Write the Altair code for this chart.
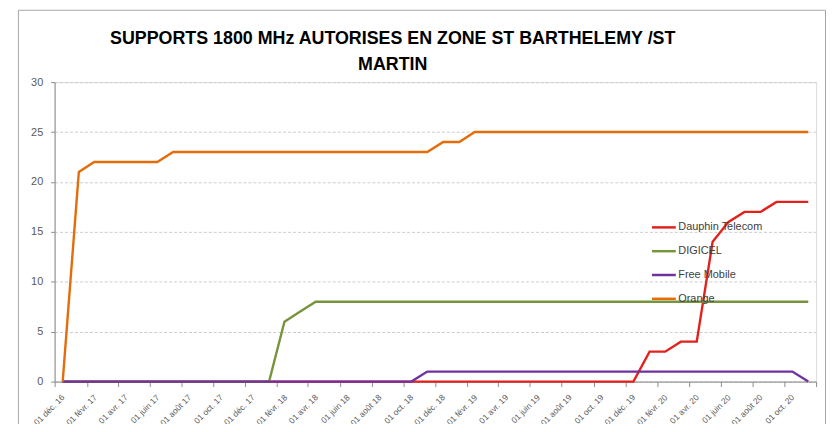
import json
import altair as alt
import pandas as pd

# ---------------- data ----------------
months = [
    "2016-12",
    "2017-01", "2017-02", "2017-03", "2017-04", "2017-05", "2017-06",
    "2017-07", "2017-08", "2017-09", "2017-10", "2017-11", "2017-12",
    "2018-01", "2018-02", "2018-03", "2018-04", "2018-05", "2018-06",
    "2018-07", "2018-08", "2018-09", "2018-10", "2018-11", "2018-12",
    "2019-01", "2019-02", "2019-03", "2019-04", "2019-05", "2019-06",
    "2019-07", "2019-08", "2019-09", "2019-10", "2019-11", "2019-12",
    "2020-01", "2020-02", "2020-03", "2020-04", "2020-05", "2020-06",
    "2020-07", "2020-08", "2020-09", "2020-10", "2020-11",
]

dauphin_telecom = [
    0,
    0, 0, 0, 0, 0, 0, 0, 0, 0, 0, 0, 0,
    0, 0, 0, 0, 0, 0, 0, 0, 0, 0, 0, 0,
    0, 0, 0, 0, 0, 0, 0, 0, 0, 0, 0, 0,
    3, 3, 4, 4, 14, 16, 17, 17, 18, 18, 18,
]
digicel = [
    0,
    0, 0, 0, 0, 0, 0, 0, 0, 0, 0, 0, 0,
    0, 6, 7, 8, 8, 8, 8, 8, 8, 8, 8, 8,
    8, 8, 8, 8, 8, 8, 8, 8, 8, 8, 8, 8,
    8, 8, 8, 8, 8, 8, 8, 8, 8, 8, 8,
]
free_mobile = [
    0,
    0, 0, 0, 0, 0, 0, 0, 0, 0, 0, 0, 0,
    0, 0, 0, 0, 0, 0, 0, 0, 0, 0, 1, 1,
    1, 1, 1, 1, 1, 1, 1, 1, 1, 1, 1, 1,
    1, 1, 1, 1, 1, 1, 1, 1, 1, 1, 0,
]
orange = [
    0,
    21, 22, 22, 22, 22, 22, 23, 23, 23, 23, 23, 23,
    23, 23, 23, 23, 23, 23, 23, 23, 23, 23, 23, 24,
    24, 25, 25, 25, 25, 25, 25, 25, 25, 25, 25, 25,
    25, 25, 25, 25, 25, 25, 25, 25, 25, 25, 25,
]

series_names = ["Dauphin Telecom", "DIGICEL", "Free Mobile", "Orange"]
series_values = [dauphin_telecom, digicel, free_mobile, orange]
series_colors = ["#E3211C", "#77933C", "#7030A0", "#E46C0A"]

month_names_fr = ["janv.", "févr.", "mars", "avr.", "mai", "juin",
                  "juil.", "août", "sept.", "oct.", "nov.", "déc."]
axis_end_month = "2020-12"
y_ticks = [0, 5, 10, 15, 20, 25, 30]
title_lines = ["SUPPORTS 1800 MHz AUTORISES EN ZONE ST BARTHELEMY /ST", "MARTIN"]

# ---------------- table ----------------
rows = []
for name, vals in zip(series_names, series_values):
    for m, v in zip(months, vals):
        rows.append({"date": m + "-01", "series": name, "value": v})
df = pd.DataFrame(rows)


def dt(ym):
    y, mo = ym.split("-")
    return alt.DateTime(year=int(y), month=int(mo), date=1, utc=True)


x_tick_values = [dt(m) for m in months[::2]] + [dt(axis_end_month)]
end_y, end_m = axis_end_month.split("-")
label_expr = (
    f"(utcyear(datum.value) == {int(end_y)} && utcmonth(datum.value) == {int(end_m) - 1}) ? '' : "
    f"'01 ' + {json.dumps(month_names_fr, ensure_ascii=False)}[utcmonth(datum.value)]"
    f" + ' ' + utcFormat(datum.value, '%y')"
)

AXIS_GREY = "#8c8c8c"
LABEL_GREY = "#595959"

x_enc = alt.X(
    "date:T",
    timeUnit="utcyearmonth",
    bandPosition=0.5,
    scale=alt.Scale(domain=[dt(months[0]), dt(axis_end_month)]),
    axis=alt.Axis(
        title=None,
        values=x_tick_values,
        labelExpr=label_expr,
        labelAngle=-45,
        labelAlign="right",
        labelBaseline="middle",
        labelFont="Liberation Sans",
        labelFontSize=8.5,
        labelColor=LABEL_GREY,
        labelOffset=8,
        labelPadding=9,
        labelOverlap=False,
        labelFlush=False,
        labelBound=False,
        grid=False,
        domainColor=AXIS_GREY,
        tickColor=AXIS_GREY,
        tickSize=5,
    ),
)

y_enc = alt.Y(
    "value:Q",
    scale=alt.Scale(domain=[0, 30]),
    axis=alt.Axis(
        title=None,
        values=y_ticks,
        grid=True,
        gridDash=[3, 2],
        gridColor="#cccccc",
        domainColor=AXIS_GREY,
        tickColor=AXIS_GREY,
        tickSize=4,
        labelPadding=8,
        labelFont="Liberation Sans",
        labelFontSize=11,
        labelColor=LABEL_GREY,
    ),
)

color_enc = alt.Color(
    "series:N",
    scale=alt.Scale(domain=series_names, range=series_colors),
    legend=alt.Legend(
        title=None,
        orient="none",
        legendX=601,
        legendY=133,
        symbolType="stroke",
        symbolSize=576,
        symbolStrokeWidth=2.5,
        labelFont="Liberation Sans",
        labelFontSize=11,
        labelColor="#404040",
        labelOffset=1,
        rowPadding=5,
        padding=0,
    ),
)

base = alt.Chart(df).mark_line(strokeWidth=2.4).encode(x=x_enc, y=y_enc, color=color_enc)
line_layers = [base.transform_filter(alt.datum.series == s) for s in series_names]

frame = alt.Chart(pd.DataFrame({"frame": [0]})).mark_rect(
    fillOpacity=0, stroke="#a6a6a6", strokeWidth=1
).encode(
    x=alt.value(-36.5), x2=alt.value(777.5), y=alt.value(-72.5), y2=alt.value(360)
)

chart = alt.layer(frame, *line_layers).properties(
    width=768,
    height=302,
    title=alt.TitleParams(
        text=title_lines,
        font="Liberation Sans Narrow, Liberation Sans",
        fontSize=18,
        fontWeight="bold",
        color="#000000",
        anchor="middle",
        dx=-43,
        dy=83,
        lineHeight=26.5,
        baseline="alphabetic",
        offset=4,
    ),
    autosize=alt.AutoSizeParams(type="none"),
    padding={"left": 47, "top": 73, "right": 11, "bottom": 41},
).configure_view(stroke=None).configure(background="#ffffff")

chart.save("out.html", embed_options={"renderer": "svg", "actions": False})
